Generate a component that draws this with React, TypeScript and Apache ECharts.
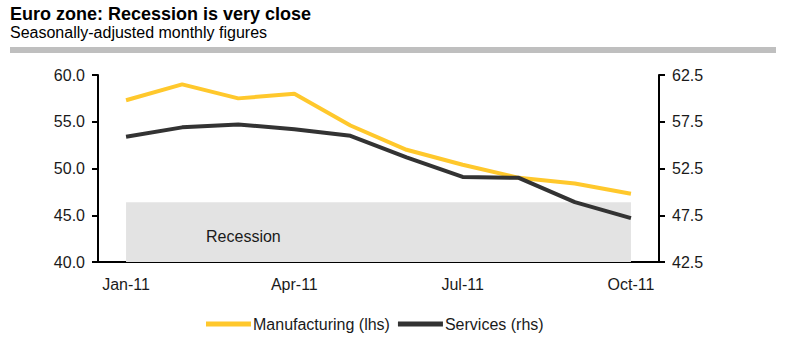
import React, { useEffect, useRef } from "react";
import * as echarts from "echarts";

const categories = ["Jan-11", "Feb-11", "Mar-11", "Apr-11", "May-11", "Jun-11", "Jul-11", "Aug-11", "Sep-11", "Oct-11"];
const manufacturing = [57.3, 59.0, 57.5, 58.0, 54.6, 52.0, 50.4, 49.0, 48.4, 47.3];
const services = [55.9, 56.9, 57.2, 56.7, 56.0, 53.7, 51.6, 51.5, 48.9, 47.2];
const recessionLevel = 46.4;
const titleText = "Euro zone: Recession is very close";
const subtitleText = "Seasonally-adjusted monthly figures";

const FONT = "Arial, 'Liberation Sans', sans-serif";
const TXT = "#1a1a1a";

export default function App() {
  const ref = useRef<HTMLDivElement>(null);
  useEffect(() => {
    if (!ref.current) return;
    const chart = echarts.init(ref.current, null, { renderer: "svg" });
    chart.setOption({
      animation: false,
      backgroundColor: "#ffffff",
      textStyle: { fontFamily: FONT },
      graphic: [
        { type: "text", left: 10, top: 5, style: { text: titleText, font: `bold 18px ${FONT}`, fill: "#000" } },
        { type: "text", left: 10, top: 24, style: { text: subtitleText, font: `16px ${FONT}`, fill: "#000" } },
        { type: "rect", shape: { x: 10, y: 47, width: 766, height: 6 }, style: { fill: "#bfbfbf" } },
      ],
      grid: { left: 98, right: 130, top: 75, bottom: 94 },
      legend: {
        left: 206,
        top: 316,
        padding: 0,
        icon: "rect",
        itemWidth: 45,
        itemHeight: 5,
        itemGap: 8,
        textStyle: { fontSize: 16, color: TXT, fontFamily: FONT, padding: [0, 0, 0, -3] },
        data: ["Manufacturing (lhs)", "Services (rhs)"],
      },
      xAxis: {
        type: "category",
        data: categories,
        boundaryGap: true,
        axisLine: { lineStyle: { color: "#000", width: 2 } },
        axisTick: { interval: 2, length: 6, lineStyle: { color: "#000", width: 2 } },
        axisLabel: { interval: 2, fontSize: 16, color: TXT, margin: 14, fontFamily: FONT },
      },
      yAxis: [
        {
          type: "value",
          min: 40,
          max: 60,
          interval: 5,
          position: "left",
          axisLine: { show: true, lineStyle: { color: "#000", width: 2 } },
          axisTick: { show: true, length: 6, lineStyle: { color: "#000", width: 2 } },
          axisLabel: { fontSize: 16, color: TXT, margin: 13, fontFamily: FONT, formatter: (v: number) => v.toFixed(1) },
          splitLine: { show: false },
        },
        {
          type: "value",
          min: 42.5,
          max: 62.5,
          interval: 5,
          position: "right",
          axisLine: { show: true, lineStyle: { color: "#000", width: 2 } },
          axisTick: { show: true, length: 6, lineStyle: { color: "#000", width: 2 } },
          axisLabel: { fontSize: 16, color: TXT, margin: 13, fontFamily: FONT, formatter: (v: number) => v.toFixed(1) },
          splitLine: { show: false },
        },
      ],
      series: [
        {
          name: "Manufacturing (lhs)",
          type: "line",
          yAxisIndex: 0,
          data: manufacturing,
          symbol: "none",
          lineStyle: { color: "#ffc82c", width: 4 },
          itemStyle: { color: "#ffc82c" },
          z: 3,
          markArea: {
            silent: true,
            itemStyle: { color: "#e3e3e3" },
            label: {
              show: true,
              position: "insideLeft",
              distance: 80,
              offset: [0, 4],
              fontSize: 16,
              color: TXT,
              fontFamily: FONT,
            },
            data: [[{ name: "Recession", xAxis: categories[0], yAxis: 40 }, { xAxis: categories[categories.length - 1], yAxis: recessionLevel }]],
          },
        },
        {
          name: "Services (rhs)",
          type: "line",
          yAxisIndex: 1,
          data: services,
          symbol: "none",
          lineStyle: { color: "#333333", width: 4 },
          itemStyle: { color: "#333333" },
          z: 4,
        },
      ],
    });
    return () => chart.dispose();
  }, []);
  return <div ref={ref} style={{ width: 789, height: 356, position: "absolute", left: 0, top: 0 }} />;
}
